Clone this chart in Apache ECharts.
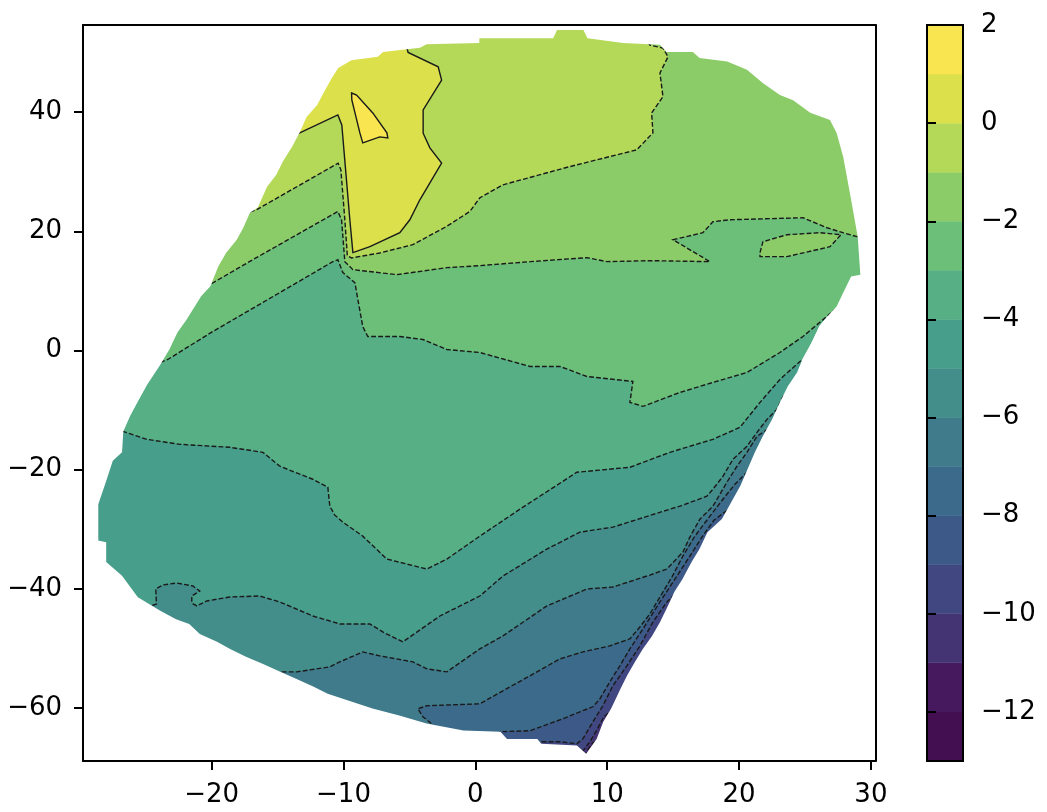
<!DOCTYPE html>
<html><head><meta charset="utf-8">
<script src="https://cdn.jsdelivr.net/npm/echarts@6/dist/echarts.min.js"></script>
<style>html,body{margin:0;padding:0;background:#fff}#c{width:1047px;height:812px}</style>
</head><body><div id="c"></div>
<script>
// contour levels and band colours (viridis as it appears in the picture)
const levels = [-13,-12,-11,-10,-9,-8,-7,-6,-5,-4,-3,-2,-1,0,1,2];
const bandColors = ['#430f50','#46195f','#443474','#414780','#3d5988','#3b6a8a','#3f7b8a','#438d8b','#479e8a','#56af85','#6bbf78','#8bcc68','#b4d858','#dbe04b','#f9e550'];
const xTicks = [-20,-10,0,10,20,30];
const yTicks = [-60,-40,-20,0,20,40];
const cbTicks = [-12,-10,-8,-6,-4,-2,0,2];

// outline of the data domain (x, y)
const domain = [[-9.4,48.7],[-7.4,49.3],[-7.0,50.1],[-4.2,50.8],[-3.7,51.4],[0.3,51.6],[0.3,52.4],[5.9,52.4],[6.2,53.8],[8.2,53.8],[8.5,52.4],[11.2,51.6],[14.0,51.3],[14.5,50.1],[16.5,50.1],[17.0,49.1],[19.1,48.5],[20.6,47.1],[21.8,44.9],[23.1,42.9],[24.1,42.0],[25.4,39.9],[26.9,38.7],[27.4,36.5],[27.9,32.5],[28.5,25.3],[29.0,19.1],[29.2,12.7],[28.5,12.4],[27.9,9.7],[27.4,7.4],[26.7,5.7],[26.1,4.1],[25.5,1.3],[24.8,-1.5],[24.4,-3.7],[23.7,-6.0],[23.1,-8.7],[22.5,-11.6],[21.8,-14.4],[21.2,-17.1],[20.1,-22.7],[18.7,-28.3],[17.6,-30.5],[17.0,-33.3],[16.4,-35.5],[15.7,-38.4],[15.1,-40.5],[14.6,-42.9],[14.0,-45.6],[13.4,-47.9],[12.7,-50.1],[12.1,-52.3],[11.5,-54.6],[11.0,-56.8],[10.3,-60.1],[9.7,-62.3],[9.2,-65.2],[8.4,-67.7],[7.7,-66.3],[5.0,-66.0],[4.7,-65.2],[2.4,-65.2],[1.9,-64.0],[-0.9,-63.8],[-3.7,-62.6],[-5.7,-61.3],[-7.8,-60.1],[-9.3,-59.0],[-11.2,-57.6],[-12.3,-56.4],[-13.6,-55.1],[-14.8,-53.9],[-16.1,-52.6],[-17.4,-51.4],[-18.6,-50.1],[-19.6,-48.9],[-20.9,-47.6],[-21.7,-45.9],[-22.7,-45.1],[-23.9,-43.7],[-25.6,-41.4],[-26.8,-37.8],[-28.0,-35.5],[-28.0,-32.2],[-28.6,-31.9],[-28.6,-25.8],[-28.0,-21.9],[-27.5,-18.5],[-26.8,-17.1],[-26.7,-13.5],[-26.2,-11.0],[-25.6,-8.5],[-24.9,-5.7],[-23.8,-2.0],[-23.2,0.2],[-22.6,3.0],[-21.9,5.2],[-20.8,9.1],[-20.1,10.8],[-19.5,14.1],[-18.9,16.4],[-18.1,18.6],[-17.6,20.6],[-17.1,23.1],[-16.5,24.0],[-15.8,27.5],[-15.1,29.5],[-14.6,31.7],[-13.9,34.2],[-13.3,36.7],[-12.8,39.2],[-12.0,41.2],[-11.6,42.9],[-10.9,45.7],[-10.4,47.4]];

// contour lines (x, y)
const contourP1 = [[-9.39,43.22],[-9.01,42.88],[-7.78,39.87],[-6.71,36.52],[-6.64,35.68],[-7.25,35.85],[-8.54,34.84],[-8.76,36.52],[-9.37,42.04]];
const contour0 = [[-13.9,36.0],[-13.32,36.52],[-10.43,39.53],[-10.13,37.86],[-9.52,21.94],[-9.29,16.42],[-8.0,17.42],[-5.73,19.77],[-4.97,21.94],[-4.21,25.29],[-2.56,31.44],[-3.45,34.0],[-3.96,36.47],[-3.96,40.37],[-2.56,45.39],[-2.82,47.62],[-5.10,50.03],[-5.27,51.4]];
const contourM1 = [[-17.6,22.9],[-16.6,23.62],[-10.41,31.44],[-10.2,30.32],[-9.9,21.94],[-9.71,15.91],[-9.39,15.53],[-7.25,16.37],[-4.74,17.76],[-2.19,20.82],[-0.42,23.33],[0.34,25.63],[2.09,27.81],[7.17,30.87],[12.23,33.67],[13.47,36.52],[13.37,39.87],[14.23,42.6],[14.0,46.57],[14.61,49.3],[14.23,50.75],[13.24,51.26],[12.86,52.6]];
const contourM2 = [[-20.9,10.0],[-20.14,11.06],[-16.88,15.24],[-10.43,23.33],[-10.15,21.94],[-9.9,14.91],[-9.29,13.57],[-5.96,12.73],[-2.16,13.9],[0.34,14.24],[4.14,14.91],[8.46,15.58],[9.98,14.91],[13.24,15.08],[17.79,14.91],[14.99,18.59],[17.26,19.77],[18.02,21.61],[19.31,21.94],[24.85,22.28],[26.67,20.6],[27.88,19.77],[28.95,19.1],[29.7,18.8]];
const islandM2 = [[21.59,16.42],[21.81,18.26],[23.63,19.43],[26.14,19.77],[27.73,19.43],[26.9,17.42],[23.63,15.75],[21.59,15.75]];
const contourM3 = [[-24.4,-2.4],[-23.33,-1.51],[-19.92,3.18],[-14.83,9.72],[-10.81,14.91],[-10.43,15.24],[-10.05,13.07],[-9.14,11.39],[-8.91,8.54],[-8.54,4.02],[-8.16,2.35],[-5.73,2.35],[-3.98,1.84],[-2.16,0.17],[0.34,-0.34],[4.14,-2.68],[6.41,-2.68],[8.46,-4.36],[11.95,-5.19],[11.72,-8.71],[12.71,-9.38],[15.52,-7.04],[18.02,-5.36],[20.6,-3.69],[23.1,-0.34],[24.85,2.35],[27.28,6.87],[28.2,7.9]];
const contourM4 = [[-27.3,-13.3],[-26.74,-13.57],[-24.92,-14.91],[-22.42,-15.75],[-18.63,-16.25],[-16.12,-17.09],[-14.83,-19.43],[-12.33,-21.61],[-11.19,-22.95],[-11.04,-26.13],[-10.66,-27.64],[-10.05,-28.81],[-8.54,-31.16],[-6.71,-35.01],[-3.68,-36.68],[-2.16,-35.01],[0.34,-31.16],[3.38,-26.63],[7.7,-20.44],[11.72,-19.6],[14.76,-17.09],[15.52,-16.58],[18.02,-14.91],[20.07,-12.9],[21.59,-8.71],[23.1,-4.86],[24.62,-1.84],[25.8,-0.3]];
const contourM5 = [[-25.0,-43.2],[-24.19,-42.55],[-24.24,-40.03],[-23.71,-39.36],[-22.67,-39.03],[-21.43,-39.53],[-20.9,-40.37],[-21.51,-41.21],[-21.51,-42.38],[-21.13,-42.88],[-20.37,-42.04],[-18.63,-41.37],[-16.35,-41.21],[-14.83,-42.21],[-12.33,-44.56],[-10.28,-45.9],[-8.0,-45.9],[-7.02,-47.24],[-5.5,-48.91],[-2.69,-44.56],[0.34,-41.21],[2.09,-37.86],[5.42,-33.33],[7.93,-30.49],[10.43,-29.65],[14.76,-26.63],[15.52,-26.13],[17.56,-24.46],[18.02,-23.28],[18.78,-21.11],[19.54,-18.26],[20.6,-16.08],[21.36,-13.74],[22.12,-11.56],[22.88,-9.88],[23.33,-7.71],[24.4,-5.6]];
const contourM6 = [[-15.14,-54.44],[-14.83,-53.94],[-13.54,-53.94],[-11.04,-53.1],[-10.28,-52.26],[-8.54,-50.59],[-7.25,-51.26],[-4.74,-52.26],[-3.68,-53.43],[-2.16,-53.94],[0.34,-50.08],[2.09,-47.91],[5.42,-42.88],[8.46,-40.03],[10.43,-39.7],[13.24,-37.69],[14.53,-36.68],[15.74,-33.84],[16.27,-31.32],[17.03,-28.31],[18.02,-26.13],[19.08,-22.11],[19.84,-19.43],[20.6,-17.09],[21.36,-14.41],[22.8,-12.3]];
const contourM7 = [[-3.0,-63.48],[-3.22,-62.81],[-3.98,-61.47],[-4.36,-60.13],[-3.68,-59.63],[0.34,-59.3],[2.09,-57.12],[4.67,-53.94],[6.41,-51.76],[8.16,-50.59],[10.2,-49.58],[11.72,-48.41],[12.48,-46.4],[13.24,-44.22],[14.0,-41.37],[14.91,-38.02],[15.74,-34.51],[16.65,-31.16],[17.79,-27.81],[18.78,-24.96],[19.69,-22.45],[20.98,-19.6]];
const contourM8 = [[1.71,-64.66],[1.86,-63.99],[4.14,-63.82],[6.64,-61.81],[7.93,-60.64],[8.92,-59.8],[9.45,-58.46],[10.2,-55.61],[10.96,-52.93],[11.72,-50.08],[12.71,-46.73],[14.0,-42.21],[15.14,-38.36],[16.27,-34.51],[17.19,-31.32],[18.1,-28.48],[19.6,-26.0]];
const contourM9 = [[4.89,-66.83],[5.05,-65.66],[6.41,-65.66],[7.7,-66.0],[8.16,-65.16],[8.92,-62.31],[9.67,-59.63],[10.43,-56.28],[11.49,-52.93],[12.48,-49.58],[13.47,-45.56],[14.53,-42.21],[16.0,-39.0]];
const contourM10 = [[8.0,-68.51],[8.16,-67.17],[8.69,-65.66],[9.22,-63.65],[9.75,-61.47],[10.7,-59.8]];
const contourM11 = [[8.31,-68.17],[8.54,-67.0],[8.92,-65.83],[9.4,-65.4]];

const fmt = v => (v < 0 ? '\u2212' + Math.abs(v) : String(v));
const bandColor = lo => bandColors[levels.indexOf(lo)];

// region above a contour that leaves through the right side / the top; region below one
const FAR_L = -45, FAR_R = 45, FAR_T = 80, FAR_B = -90;
const aboveRight = l => l.concat([[FAR_R, l[l.length-1][1]], [FAR_R, FAR_T], [FAR_L, FAR_T], [FAR_L, l[0][1]]]);
const aboveTop = l => l.concat([[l[l.length-1][0], FAR_T], [FAR_L, FAR_T], [FAR_L, l[0][1]]]);
const below = l => l.concat([[FAR_R, l[l.length-1][1]], [FAR_R, FAR_B], [FAR_L, FAR_B], [FAR_L, l[0][1]]]);

const fills = [
  {pts: domain, color: bandColor(-4)},
  {pts: aboveRight(contourM3), color: bandColor(-3)},
  {pts: aboveRight(contourM2), color: bandColor(-2)},
  {pts: islandM2, color: bandColor(-2)},
  {pts: aboveTop(contourM1), color: bandColor(-1)},
  {pts: aboveTop(contour0), color: bandColor(0)},
  {pts: contourP1, color: bandColor(1)},
  {pts: below(contourM4), color: bandColor(-5)},
  {pts: below(contourM5), color: bandColor(-6)},
  {pts: below(contourM6), color: bandColor(-7)},
  {pts: below(contourM7), color: bandColor(-8)},
  {pts: below(contourM8), color: bandColor(-9)},
  {pts: below(contourM9), color: bandColor(-10)},
  {pts: below(contourM10), color: bandColor(-11)},
  {pts: below(contourM11), color: bandColor(-12)}
];
const lines = [
  {pts: contourP1, level: 1, closed: true},
  {pts: contour0, level: 0},
  {pts: contourM1, level: -1},
  {pts: contourM2, level: -2},
  {pts: islandM2, level: -2, closed: true},
  {pts: contourM3, level: -3},
  {pts: contourM4, level: -4},
  {pts: contourM5, level: -5},
  {pts: contourM6, level: -6},
  {pts: contourM7, level: -7},
  {pts: contourM8, level: -8},
  {pts: contourM9, level: -9},
  {pts: contourM10, level: -10},
  {pts: contourM11, level: -11}
];

function area(p) { let a = 0; for (let i = 0; i < p.length; i++) { const q = p[(i+1)%p.length]; a += p[i][0]*q[1] - q[0]*p[i][1]; } return a; }

function renderMain(params, api) {
  const cs = params.coordSys;
  const px = pts => pts.map(p => api.coord(p));
  const children = [];
  fills.forEach(f => children.push({type: 'polygon', shape: {points: px(f.pts)}, style: {fill: f.color}}));
  lines.forEach(l => children.push({
    type: l.closed ? 'polygon' : 'polyline',
    shape: {points: px(l.pts)},
    style: {fill: 'none', stroke: '#1a1a1a', lineWidth: 1.4, lineDash: l.level < 0 ? [4.8, 2.2] : null}
  }));
  // white mask outside the domain
  const x0 = cs.x - 3, y0 = cs.y - 3, x1 = cs.x + cs.width + 3, y1 = cs.y + cs.height + 3;
  const rect = [[x0,y0],[x1,y0],[x1,y1],[x0,y1]];
  let dom = px(domain);
  if (Math.sign(area(dom)) === Math.sign(area(rect))) dom = dom.slice().reverse();
  const d = 'M' + rect.map(p => p[0] + ' ' + p[1]).join('L') + 'Z' +
            'M' + dom.map(p => p[0].toFixed(2) + ' ' + p[1].toFixed(2)).join('L') + 'Z';
  children.push({type: 'path', shape: {pathData: d}, style: {fill: '#fff'}});
  return {type: 'group', children};
}

function renderBand(params, api) {
  const k = api.value(0);
  const a = api.coord([0, levels[k+1]]), b = api.coord([1, levels[k]]);
  return {type: 'rect', shape: {x: a[0], y: a[1], width: b[0]-a[0], height: b[1]-a[1]}, style: {fill: bandColors[k], stroke: bandColors[k], lineWidth: 0.5}};
}
function renderOutline(params, api) {
  const a = api.coord([0, levels[levels.length-1]]), b = api.coord([1, levels[0]]);
  return {type: 'rect', shape: {x: a[0], y: a[1], width: b[0]-a[0], height: b[1]-a[1]}, style: {fill: 'none', stroke: '#000', lineWidth: 2}};
}

const labelFont = {color: '#000', fontFamily: 'DejaVu Sans', fontSize: 26};
const frameLine = {show: true, onZero: false, lineStyle: {color: '#000', width: 2}};
const chart = echarts.init(document.getElementById('c'), null, {renderer: 'canvas'});
chart.setOption({
  animation: false,
  backgroundColor: '#fff',
  grid: [
    {left: 83, top: 25, width: 792.5, height: 736},
    {left: 927, top: 25, width: 36, height: 736}
  ],
  xAxis: [
    {gridIndex: 0, type: 'value', min: -29.76, max: 30.35, position: 'bottom', z: 10,
     axisLine: frameLine,
     axisTick: {show: true, length: 9, lineStyle: {color: '#000', width: 2}, customValues: xTicks},
     axisLabel: Object.assign({show: true, customValues: xTicks, formatter: fmt, margin: 21}, labelFont),
     splitLine: {show: false}},
    {gridIndex: 0, type: 'value', min: -29.76, max: 30.35, position: 'top', z: 10,
     axisLine: frameLine, axisTick: {show: false}, axisLabel: {show: false}, splitLine: {show: false}},
    {gridIndex: 1, type: 'value', min: 0, max: 1, show: false}
  ],
  yAxis: [
    {gridIndex: 0, type: 'value', min: -68.9, max: 54.63, position: 'left', z: 10,
     axisLine: frameLine,
     axisTick: {show: true, length: 9, lineStyle: {color: '#000', width: 2}, customValues: yTicks},
     axisLabel: Object.assign({show: true, customValues: yTicks, formatter: fmt, margin: 21}, labelFont),
     splitLine: {show: false}},
    {gridIndex: 0, type: 'value', min: -68.9, max: 54.63, position: 'right', z: 10,
     axisLine: frameLine, axisTick: {show: false}, axisLabel: {show: false}, splitLine: {show: false}},
    {gridIndex: 1, type: 'value', min: -13, max: 2, position: 'right', z: 10,
     axisLine: {show: false},
     axisTick: {show: true, length: 9, lineStyle: {color: '#000', width: 2}, customValues: cbTicks},
     axisLabel: Object.assign({show: true, customValues: cbTicks, formatter: fmt, margin: 18}, labelFont),
     splitLine: {show: false}}
  ],
  series: [
    {type: 'custom', xAxisIndex: 0, yAxisIndex: 0, clip: true, data: [[0, 0]], renderItem: renderMain, silent: true},
    {type: 'custom', xAxisIndex: 2, yAxisIndex: 2, data: bandColors.map((c, i) => [i]), renderItem: renderBand, silent: true},
    {type: 'custom', xAxisIndex: 2, yAxisIndex: 2, data: [[0]], renderItem: renderOutline, silent: true, z: 5}
  ]
});
</script>
</body></html>
